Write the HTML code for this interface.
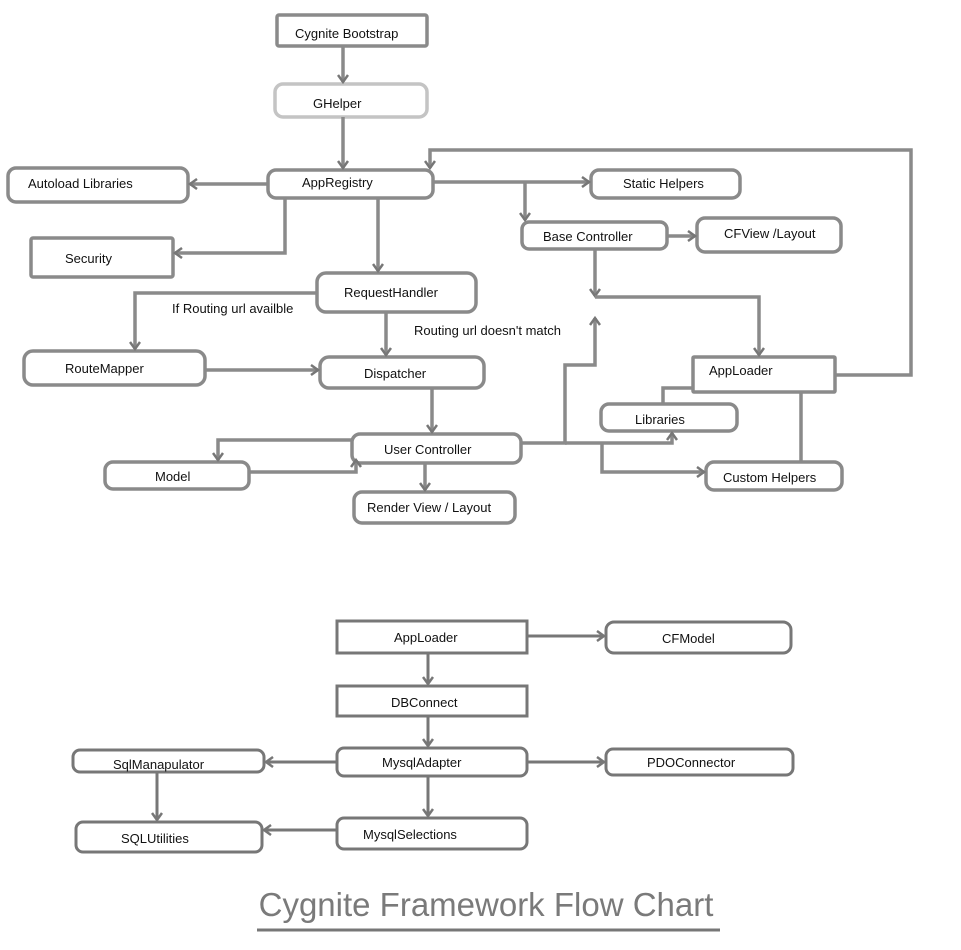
<!DOCTYPE html>
<html><head><meta charset="utf-8"><style>
html,body{margin:0;padding:0;background:#fff;}
svg{display:block;}
text{font-family:"Liberation Sans",sans-serif;font-size:13px;fill:#111;}
.b{fill:none;stroke:#8a8a8a;stroke-width:3.5;}
.l{fill:none;stroke:#8a8a8a;stroke-width:3.5;}
.s{fill:none;stroke:#777;stroke-width:3;}
</style></head><body>
<svg width="961" height="950" viewBox="0 0 961 950" xmlns="http://www.w3.org/2000/svg">
<defs>
<marker id="a" markerWidth="12" markerHeight="12" refX="9" refY="6" orient="auto" markerUnits="userSpaceOnUse">
<path d="M2,1 L9,6 L2,11" fill="none" stroke="#777" stroke-width="2.5"/></marker>
</defs>
<!-- top boxes -->
<rect class="b" x="277" y="15" width="150" height="31" rx="2"/>
<text x="295" y="38">Cygnite Bootstrap</text>
<rect class="b" x="275" y="84" width="152" height="33" rx="8" style="stroke:#c4c4c4"/>
<text x="313" y="108">GHelper</text>
<rect class="b" x="268" y="170" width="165" height="28" rx="8"/>
<text x="302" y="187">AppRegistry</text>
<rect class="b" x="8" y="168" width="180" height="34" rx="8"/>
<text x="28" y="188">Autoload Libraries</text>
<rect class="b" x="31" y="238" width="142" height="39" rx="2"/>
<text x="65" y="263">Security</text>
<rect class="b" x="591" y="170" width="149" height="28" rx="8"/>
<text x="623" y="188">Static Helpers</text>
<rect class="b" x="522" y="222" width="145" height="27" rx="7"/>
<text x="543" y="241">Base Controller</text>
<rect class="b" x="697" y="218" width="144" height="34" rx="8"/>
<text x="724" y="238">CFView /Layout</text>
<rect class="b" x="317" y="273" width="159" height="39" rx="9"/>
<text x="344" y="297">RequestHandler</text>
<rect class="b" x="24" y="351" width="181" height="34" rx="9"/>
<text x="65" y="373">RouteMapper</text>
<rect class="b" x="320" y="357" width="164" height="31" rx="9"/>
<text x="364" y="378">Dispatcher</text>
<rect class="b" x="693" y="357" width="142" height="35" rx="1"/>
<text x="709" y="375">AppLoader</text>
<rect class="b" x="601" y="404" width="136" height="27" rx="8"/>
<text x="635" y="424">Libraries</text>
<rect class="b" x="352" y="434" width="169" height="29" rx="8"/>
<text x="384" y="454">User Controller</text>
<rect class="b" x="105" y="462" width="144" height="27" rx="8"/>
<text x="155" y="481">Model</text>
<rect class="b" x="706" y="462" width="136" height="28" rx="8"/>
<text x="723" y="482">Custom Helpers</text>
<rect class="b" x="354" y="492" width="161" height="31" rx="8"/>
<text x="367" y="512">Render View / Layout</text>
<!-- top connectors -->
<path class="l" d="M343,46 V82" marker-end="url(#a)"/>
<path class="l" d="M343,117 V168" marker-end="url(#a)"/>
<path class="l" d="M268,184 H190" marker-end="url(#a)"/>
<path class="l" d="M285,198 V253 H175" marker-end="url(#a)"/>
<path class="l" d="M378,198 V271" marker-end="url(#a)"/>
<path class="l" d="M433,182 H589" marker-end="url(#a)"/>
<path class="l" d="M525,182 V220" marker-end="url(#a)"/>
<path class="l" d="M835,375 H911 V150 H430 V168" marker-end="url(#a)"/>
<path class="l" d="M667,236 H695" marker-end="url(#a)"/>
<path class="l" d="M595,249 V296" marker-end="url(#a)"/>
<path class="l" d="M595,297 H759 V355" marker-end="url(#a)"/>
<path class="l" d="M521,443 H565 V365 H595 V318" marker-end="url(#a)"/>
<path class="l" d="M317,293 H135 V349" marker-end="url(#a)"/>
<text x="172" y="313">If Routing url availble</text>
<text x="414" y="335">Routing url doesn't match</text>
<path class="l" d="M386,312 V355" marker-end="url(#a)"/>
<path class="l" d="M205,370 H318" marker-end="url(#a)"/>
<path class="l" d="M432,388 V432" marker-end="url(#a)"/>
<path class="l" d="M352,440 H218 V460" marker-end="url(#a)"/>
<path class="l" d="M249,472 H356 V460" marker-end="url(#a)"/>
<path class="l" d="M425,463 V490" marker-end="url(#a)"/>
<path class="l" d="M565,443 H672 V433" marker-end="url(#a)"/>
<path class="l" d="M602,443 V472 H704" marker-end="url(#a)"/>
<path class="l" d="M693,388 H663 V404"/>
<path class="l" d="M801,392 V462"/>
<!-- bottom -->
<rect class="s" x="337" y="621" width="190" height="32"/>
<text x="394" y="642">AppLoader</text>
<rect class="s" x="606" y="622" width="185" height="31" rx="8"/>
<text x="662" y="643">CFModel</text>
<rect class="s" x="337" y="686" width="190" height="30"/>
<text x="391" y="707">DBConnect</text>
<rect class="s" x="337" y="748" width="190" height="28" rx="7"/>
<text x="382" y="767">MysqlAdapter</text>
<rect class="s" x="606" y="749" width="187" height="26" rx="7"/>
<text x="647" y="767">PDOConnector</text>
<rect class="s" x="73" y="750" width="191" height="22" rx="7"/>
<text x="113" y="769">SqlManapulator</text>
<rect class="s" x="337" y="818" width="190" height="31" rx="7"/>
<text x="363" y="839">MysqlSelections</text>
<rect class="s" x="76" y="822" width="186" height="30" rx="7"/>
<text x="121" y="843">SQLUtilities</text>
<path class="s" d="M527,636 H604" marker-end="url(#a)"/>
<path class="s" d="M428,653 V684" marker-end="url(#a)"/>
<path class="s" d="M428,716 V746" marker-end="url(#a)"/>
<path class="s" d="M337,762 H266" marker-end="url(#a)"/>
<path class="s" d="M527,762 H604" marker-end="url(#a)"/>
<path class="s" d="M157,772 V820" marker-end="url(#a)"/>
<path class="s" d="M428,776 V816" marker-end="url(#a)"/>
<path class="s" d="M337,830 H264" marker-end="url(#a)"/>
<text x="486" y="916" text-anchor="middle" style="font-size:33px;fill:#7a7a7a;">Cygnite Framework Flow Chart</text>
<line x1="257" y1="930" x2="720" y2="930" stroke="#777" stroke-width="3"/>
</svg>
</body></html>
